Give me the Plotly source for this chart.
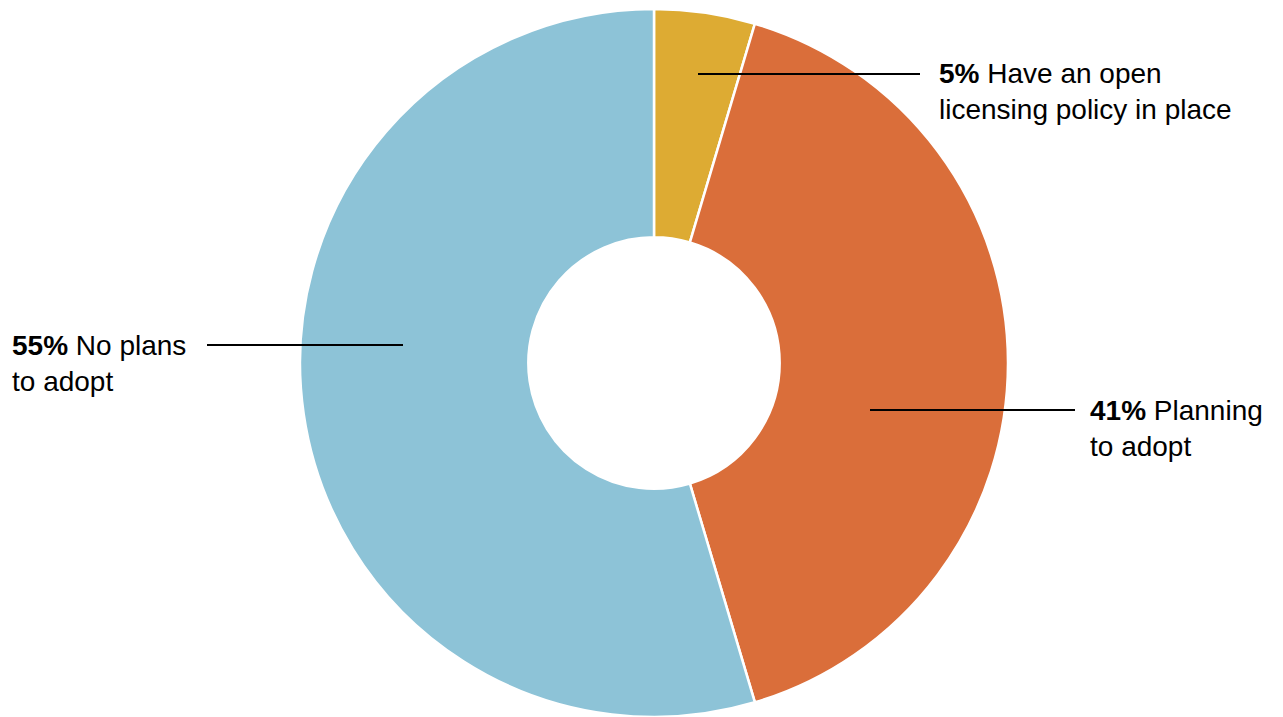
import plotly.graph_objects as go

labels = ['Have an open licensing policy in place', 'Planning to adopt', 'No plans to adopt']
values = [4.6, 40.8, 54.6]
pct_text = ['5%', '41%', '55%']
colors = ['#DDAB33', '#DA6E3A', '#8DC3D7']

W, H = 1283, 717
OFF = 8  # page body margin pushes the figure 8px right/down

def px(x):
    return (x - OFF) / W

def py(y):
    return 1 - (y - OFF) / H

fig = go.Figure(go.Pie(labels=labels, values=values, hole=0.355, sort=False,
                       direction='clockwise', rotation=0, textinfo='none',
                       hoverinfo='skip', showlegend=False,
                       marker=dict(colors=colors, line=dict(color='white', width=2.5)),
                       domain=dict(x=[px(300), px(1008)], y=[py(717), py(9)])))

font = dict(family="Liberation Sans, Arial, sans-serif", size=28, color="black")

# callouts: text block + leader line
callouts = [
    (f'<b>{pct_text[0]}</b> Have an open<br>licensing policy in place', 937, 91, (698, 920, 74)),
    (f'<b>{pct_text[2]}</b> No plans<br>to adopt', 10, 363, (207, 403, 345)),
    (f'<b>{pct_text[1]}</b> Planning<br>to adopt', 1088, 428, (870, 1075, 410)),
]
for txt, tx, ty, (x0, x1, ly) in callouts:
    fig.add_annotation(text=txt, x=px(tx), y=py(ty), xref='paper', yref='paper',
                       xanchor='left', yanchor='middle', align='left',
                       showarrow=False, font=font)
    fig.add_shape(type='line', xref='paper', yref='paper',
                  x0=px(x0), x1=px(x1), y0=py(ly), y1=py(ly),
                  line=dict(color='black', width=2))

fig.update_layout(width=W, height=H, margin=dict(l=0, r=0, t=0, b=0),
                  paper_bgcolor='white', plot_bgcolor='white', font=font)
fig.write_html("out.html")
